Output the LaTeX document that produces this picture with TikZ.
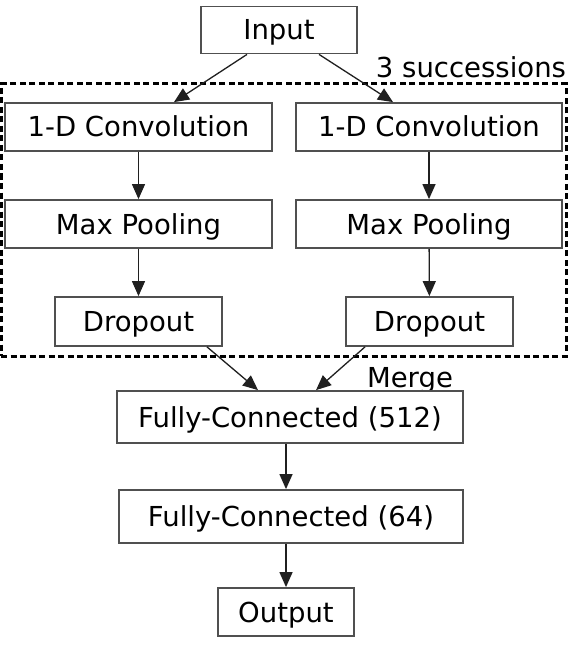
\documentclass[tikz,border=0pt]{standalone}
\usepackage{fontspec}
\setmainfont{DejaVu Sans}
\usetikzlibrary{arrows.meta,calc}
\definecolor{boxgray}{HTML}{505050}
\definecolor{arrgray}{HTML}{202020}
\begin{document}
\begin{tikzpicture}[x=1pt,y=-1pt,
  box/.style={draw=boxgray,line width=1.8pt,fill=white,inner sep=0pt,text height=24pt,text depth=4pt,font=\fontsize{27.5}{32}\selectfont},
  lbl/.style={inner sep=0pt,text height=24pt,text depth=4pt,font=\fontsize{27.5}{32}\selectfont},
  arr/.style={-{Triangle[length=15pt,width=13pt]},line width=1.3pt,arrgray},
  dashbox/.style={draw=black,line width=3pt,dash pattern=on 6pt off 3.5pt,inner sep=0pt}]
\useasboundingbox (0,0) rectangle (568,655);
\fill[white] (0,0) rectangle (568,655);
% group
\node[dashbox,minimum width=565pt,minimum height=272pt] (grp) at (283.5,220) {};
\node[lbl] (succ) at (471,68) {3 successions};
% nodes
\node[box,minimum width=156pt,minimum height=47pt] (in) at (279,30) {Input};
\node[box,minimum width=267pt,minimum height=48pt] (c1) at (138.5,127) {1-D Convolution};
\node[box,minimum width=266pt,minimum height=48pt] (c2) at (429,127) {1-D Convolution};
\node[box,minimum width=267pt,minimum height=48pt] (m1) at (138.5,224) {Max Pooling};
\node[box,minimum width=266pt,minimum height=48pt] (m2) at (429,224) {Max Pooling};
\node[box,minimum width=167pt,minimum height=49pt] (d1) at (138.5,321.5) {Dropout};
\node[box,minimum width=167pt,minimum height=49pt] (d2) at (429.5,321.5) {Dropout};
\node[lbl] (merge) at (410,377) {Merge};
\node[box,minimum width=346pt,minimum height=52pt] (f1) at (290,417) {Fully-Connected (512)};
\node[box,minimum width=344pt,minimum height=53pt] (f2) at (291,516.5) {Fully-Connected (64)};
\node[box,minimum width=136pt,minimum height=48pt] (out) at (286,612) {Output};
% connectors
\draw[arr] ([xshift=-32pt]in.south) -- ([xshift=35.5pt]c1.north);
\draw[arr] ([xshift=40pt]in.south) -- ([xshift=-36pt]c2.north);
\draw[arr] (c1) -- (m1);
\draw[arr] (c2) -- (m2);
\draw[arr] (m1) -- (d1);
\draw[arr] (m2) -- (d2);
\draw[arr] ([xshift=68.5pt]d1.south) -- ([xshift=-32pt]f1.north);
\draw[arr] ([xshift=-64.5pt]d2.south) -- ([xshift=26pt]f1.north);
\draw[arr] ([xshift=-4pt]f1.south) -- ([xshift=-5pt]f2.north);
\draw[arr] ([xshift=-5pt]f2.south) -- (out.north);
\end{tikzpicture}
\end{document}
